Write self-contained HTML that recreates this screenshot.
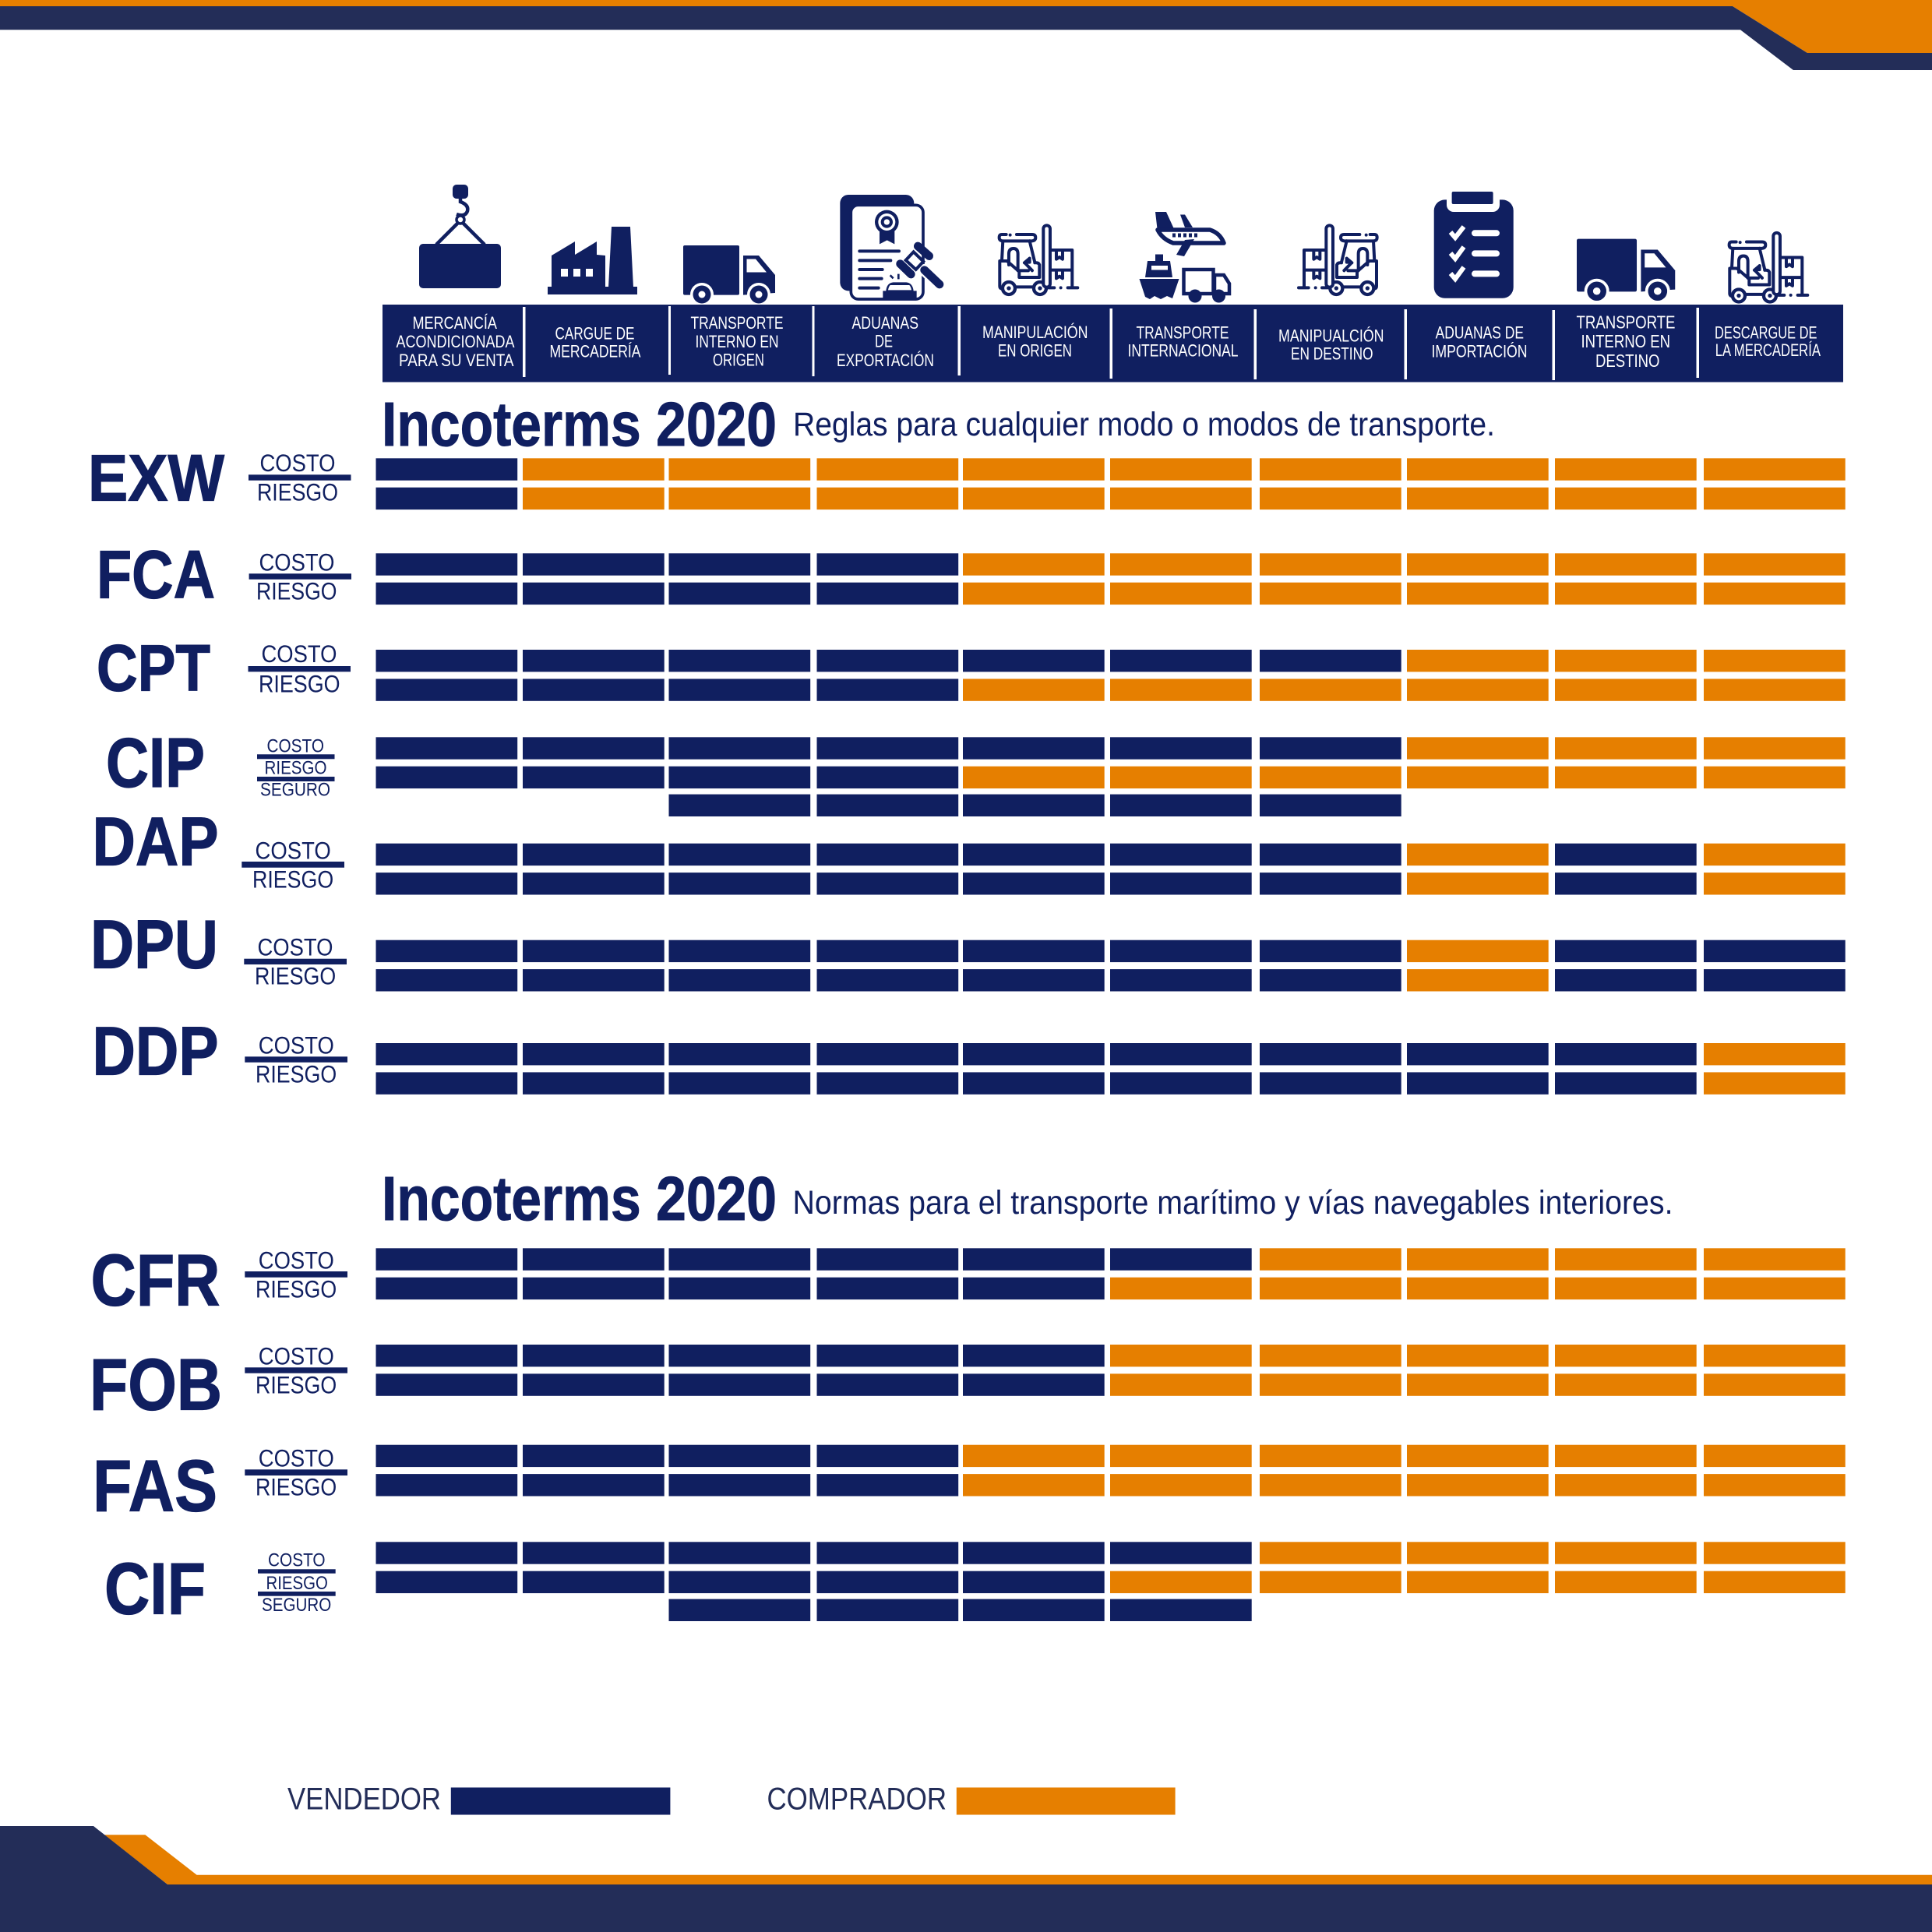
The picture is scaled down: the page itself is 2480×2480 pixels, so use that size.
<!DOCTYPE html>
<html lang="es">
<head>
<meta charset="utf-8">
<title>Incoterms 2020</title>
<style>
html,body{margin:0;padding:0;background:#fff;width:2480px;height:2480px;overflow:hidden}
svg{display:block}
text{font-family:"Liberation Sans",sans-serif}
.hd{font-size:22px;fill:#fff}
.ttl{font-size:80px;font-weight:700;fill:#101f60;stroke:#101f60;stroke-width:1}
.sub{font-size:43px;fill:#101f60}
.term{font-weight:700;fill:#101f60;stroke:#101f60;stroke-width:1.2}
.cr{font-size:31.5px;fill:#101f60}
.crs{font-size:24.5px;fill:#101f60}
.leg{font-size:40px;fill:#232d58}
.navy{fill:#101f60}
.sep{fill:#fff}
.fk{fill:none;stroke:#101f60;stroke-width:12;stroke-linecap:round;stroke-linejoin:round}
</style>
</head>
<body>
<svg id="chart" xmlns="http://www.w3.org/2000/svg" width="2480" height="2480" viewBox="0 0 2480 2480">
<rect width="2480" height="2480" fill="#fff"/>

<!-- frame -->
<polygon fill="#e67f00" points="0,0 2480,0 2480,68 2320,68 2224,8 0,8"/>
<polygon fill="#232d58" points="0,8 2224,8 2320,68 2480,68 2480,90 2302,90 2234,38.3 0,38.3"/>
<polygon fill="#e67f00" points="134,2355.3 186.4,2355.3 252.6,2406.7 2480,2406.7 2480,2419 215,2419"/>
<polygon fill="#232d58" points="0,2344 120,2344 215,2419 2480,2419 2480,2480 0,2480"/>

<defs>
<g id="forklift">
  <path class="fk" d="M875 183H858Q848 183 848 195Q848 206 860 208H975Q988 206 988 195Q988 183 975 183H915"/>
  <circle cx="890" cy="185" r="6" class="navy"/>
  <path class="fk" d="M862 208L858 285M965 208L985 290"/>
  <path class="fk" d="M885 300V258Q885 237 903 237Q920 237 920 258V322H960M945 292L965 275M965 275V290H950M950 296L975 322"/>
  <path class="fk" d="M850 285V382Q850 390 858 392M850 285H878L925 326V348H1003V300Q1000 290 985 292M915 385H975"/>
  <circle cx="885" cy="390" r="24" fill="#fff" stroke="#101f60" stroke-width="13"/>
  <circle cx="885" cy="390" r="8" class="navy"/>
  <circle cx="1005" cy="390" r="24" fill="#fff" stroke="#101f60" stroke-width="13"/>
  <circle cx="1005" cy="390" r="8" class="navy"/>
  <rect x="1018" y="148" width="26" height="238" rx="13" fill="#fff" stroke="#101f60" stroke-width="12"/>
  <path class="fk" d="M1046 243H1129V386M1046 320H1129M1068 243V278L1080 270L1092 278V243M1068 320V352L1080 344L1092 352V320M1036 388H1060M1112 388H1150"/>
  <circle cx="1085" cy="388" r="6" class="navy"/>
</g>
<g id="truck">
  <rect x="877" y="315" width="72" height="63.6" rx="2" class="navy"/>
  <path class="navy" d="M954 328H974L995 353V376L954 378.6Z"/>
  <path fill="#fff" d="M958.5 332.5H970L984 349.5H958.5Z"/>
  <circle cx="901" cy="378" r="15" fill="#fff"/>
  <circle cx="901" cy="378" r="11.5" class="navy"/>
  <circle cx="901" cy="378" r="4.5" fill="#fff"/>
  <circle cx="974" cy="378" r="15" fill="#fff"/>
  <circle cx="974" cy="378" r="11.5" class="navy"/>
  <circle cx="974" cy="378" r="4.5" fill="#fff"/>
</g>
</defs>

<!-- icons -->
<g>
  <rect x="538" y="313" width="105" height="57" rx="5" class="navy"/>
  <rect x="581" y="237" width="20" height="18" rx="5" class="navy"/>
  <path d="M591 255V259Q602 263 600 271Q597 279 586 275M591 283L560 314M591 283L622 314" fill="none" stroke="#101f60" stroke-width="4.5"/>
  <circle cx="591" cy="282" r="5" fill="#fff" stroke="#101f60" stroke-width="3.5"/>
</g>
<g>
  <rect x="703" y="368" width="115" height="10" class="navy"/>
  <polygon class="navy" points="708,328 738,310 738,327 766,310 766,327 777,328 777,369 708,369"/>
  <polygon class="navy" points="785,291 809,291 813,369 781,369"/>
  <rect x="720" y="345" width="9" height="10" fill="#fff"/>
  <rect x="736" y="345" width="9" height="10" fill="#fff"/>
  <rect x="752" y="345" width="9" height="10" fill="#fff"/>
</g>
<use href="#truck"/>
<g transform="matrix(.3333 0 0 .3333 1000 240)">
  <rect x="235" y="30" width="285" height="370" rx="32" class="navy"/>
  <rect x="277" y="70" width="278" height="362" rx="28" fill="#fff" stroke="#101f60" stroke-width="11"/>
  <polygon class="navy" points="387,170 445,170 445,220 416,205 387,220"/>
  <circle cx="415" cy="135" r="46" class="navy"/>
  <circle cx="415" cy="135" r="33" fill="#fff"/>
  <circle cx="415" cy="135" r="23" class="navy"/>
  <circle cx="415" cy="135" r="11" fill="#fff"/>
  <path d="M310 247H462M310 283H430M310 318H398M310 353H395M310 389H383" stroke="#101f60" stroke-width="12" stroke-linecap="round" fill="none"/>
  <path d="M428 340L440 352M460 335V355" stroke="#101f60" stroke-width="8" fill="none"/>
  <path class="navy" d="M400 432V400H412Q415 370 440 367H490Q515 370 518 400H530V432Z"/>
  <path fill="#fff" d="M428 378H502Q508 385 510 397H420Q422 385 428 378Z"/>
  <path d="M560 320L618 375" stroke="#fff" stroke-width="46" stroke-linecap="round"/>
  <path d="M560 320L618 375" stroke="#101f60" stroke-width="32" stroke-linecap="round"/>
  <path d="M535 228L578 266M467 296L508 336" stroke="#101f60" stroke-width="32" stroke-linecap="round"/>
  <polygon points="518,250 556,287 527,318 488,282" fill="#fff" stroke="#101f60" stroke-width="12"/>
</g>
<use href="#forklift" transform="matrix(.3333 0 0 .3333 1000 240)"/>
<g>
  <polygon class="navy" points="1483,272 1497,272 1508,296 1486,298"/>
  <polygon class="navy" points="1515,275.5 1521,275.5 1531,292 1521,292"/>
  <path d="M1486 295H1553Q1566 299 1571 312H1506Q1492 307 1486 295Z" fill="#fff" stroke="#101f60" stroke-width="5.5" stroke-linejoin="round"/>
  <path d="M1505 302H1540" stroke="#101f60" stroke-width="5" stroke-dasharray="4 3" fill="none"/>
  <polygon class="navy" points="1521,308 1533,307 1520,329 1510,327"/>
  <rect x="1483" y="326.5" width="10" height="9" class="navy"/>
  <polygon class="navy" points="1473,335 1502,335 1505,356 1470,356"/>
  <rect x="1478" y="341" width="21" height="5.5" fill="#fff"/>
  <path class="navy" d="M1462.5 358H1513.5L1505 383L1498 380L1490 384L1482 380L1476 384L1470 381Z"/>
  <rect x="1519.5" y="346" width="38" height="31" fill="#fff" stroke="#101f60" stroke-width="4.5"/>
  <path d="M1559 353H1571L1578 364V377H1559Z" fill="#fff" stroke="#101f60" stroke-width="4.5"/>
  <circle cx="1534" cy="380" r="8.5" class="navy"/>
  <circle cx="1564.5" cy="380" r="8.5" class="navy"/>
</g>
<use href="#forklift" transform="matrix(-.3333 0 0 .3333 2050.3 240)"/>
<g>
  <rect x="1840.7" y="256.4" width="102" height="126.4" rx="14" class="navy"/>
  <rect x="1857" y="248" width="68" height="24" rx="9" fill="#fff"/>
  <rect x="1863.6" y="246" width="53" height="16" rx="2" class="navy"/>
  <path d="M1862 298L1868 305L1879 291M1862 325L1868 332L1879 317M1862 351L1868 358L1879 343" fill="none" stroke="#fff" stroke-width="6"/>
  <path d="M1893 299.3H1921M1893 325.4H1921M1893 351.4H1921" stroke="#fff" stroke-width="8" stroke-linecap="round"/>
</g>
<use href="#truck" transform="matrix(1.07 0 0 1.066 1085.6 -29.2)"/>
<use href="#forklift" transform="matrix(.3333 0 0 .3333 1937 249.5)"/>

<!-- header band -->
<rect x="491" y="391" width="1875" height="99.5" class="navy"/>
<g class="sep">
  <rect x="671" y="394" width="3.5" height="90"/>
  <rect x="858" y="393" width="3" height="88"/>
  <rect x="1042.5" y="393" width="3" height="90"/>
  <rect x="1229.5" y="393" width="3.5" height="89"/>
  <rect x="1424.5" y="396" width="3.5" height="90"/>
  <rect x="1609.5" y="397" width="3.5" height="90"/>
  <rect x="1802.5" y="397" width="3.5" height="90"/>
  <rect x="1992.5" y="398" width="3.5" height="90"/>
  <rect x="2177.5" y="395" width="3.5" height="90"/>
</g>
<g>
<text class="hd" x="529.5" y="422" textLength="108.5" lengthAdjust="spacingAndGlyphs">MERCANCÍA</text>
<text class="hd" x="508.5" y="446" textLength="152" lengthAdjust="spacingAndGlyphs">ACONDICIONADA</text>
<text class="hd" x="512" y="470" textLength="147.5" lengthAdjust="spacingAndGlyphs">PARA SU VENTA</text>
<text class="hd" x="712.5" y="435.7" textLength="102" lengthAdjust="spacingAndGlyphs">CARGUE DE</text>
<text class="hd" x="705.5" y="458.7" textLength="117" lengthAdjust="spacingAndGlyphs">MERCADERÍA</text>
<text class="hd" x="886.5" y="422" textLength="119" lengthAdjust="spacingAndGlyphs">TRANSPORTE</text>
<text class="hd" x="892.5" y="446" textLength="107" lengthAdjust="spacingAndGlyphs">INTERNO EN</text>
<text class="hd" x="915" y="469.4" textLength="66" lengthAdjust="spacingAndGlyphs">ORIGEN</text>
<text class="hd" x="1093.5" y="422" textLength="85.5" lengthAdjust="spacingAndGlyphs">ADUANAS</text>
<text class="hd" x="1123" y="445.7" textLength="23" lengthAdjust="spacingAndGlyphs">DE</text>
<text class="hd" x="1074" y="470" textLength="125" lengthAdjust="spacingAndGlyphs">EXPORTACIÓN</text>
<text class="hd" x="1261" y="434" textLength="135.5" lengthAdjust="spacingAndGlyphs">MANIPULACIÓN</text>
<text class="hd" x="1281" y="457.5" textLength="95" lengthAdjust="spacingAndGlyphs">EN ORIGEN</text>
<text class="hd" x="1458.5" y="434.6" textLength="119" lengthAdjust="spacingAndGlyphs">TRANSPORTE</text>
<text class="hd" x="1447.5" y="457.5" textLength="142" lengthAdjust="spacingAndGlyphs">INTERNACIONAL</text>
<text class="hd" x="1641" y="438.4" textLength="135.5" lengthAdjust="spacingAndGlyphs">MANIPUALCIÓN</text>
<text class="hd" x="1657" y="461.4" textLength="105.5" lengthAdjust="spacingAndGlyphs">EN DESTINO</text>
<text class="hd" x="1842.6" y="434.6" textLength="113.4" lengthAdjust="spacingAndGlyphs">ADUANAS DE</text>
<text class="hd" x="1837.5" y="458.3" textLength="123" lengthAdjust="spacingAndGlyphs">IMPORTACIÓN</text>
<text class="hd" x="2023.5" y="421.5" textLength="127" lengthAdjust="spacingAndGlyphs" style="font-size:23.5px">TRANSPORTE</text>
<text class="hd" x="2029.5" y="446" textLength="114.6" lengthAdjust="spacingAndGlyphs" style="font-size:23.5px">INTERNO EN</text>
<text class="hd" x="2048" y="471" textLength="82.5" lengthAdjust="spacingAndGlyphs" style="font-size:23.5px">DESTINO</text>
<text class="hd" x="2201" y="434.6" textLength="131.5" lengthAdjust="spacingAndGlyphs">DESCARGUE DE</text>
<text class="hd" x="2201.7" y="456.8" textLength="135.3" lengthAdjust="spacingAndGlyphs">LA MERCADERÍA</text>
</g>

<!-- titles -->
<text class="ttl" x="490" y="572" textLength="507" lengthAdjust="spacingAndGlyphs">Incoterms 2020</text>
<text class="sub" x="1018" y="559" textLength="901" lengthAdjust="spacingAndGlyphs">Reglas para cualquier modo o modos de transporte.</text>
<text class="ttl" x="490" y="1566" textLength="507" lengthAdjust="spacingAndGlyphs">Incoterms 2020</text>
<text class="sub" x="1017.5" y="1558" textLength="1130" lengthAdjust="spacingAndGlyphs">Normas para el transporte marítimo y vías navegables interiores.</text>

<!-- term labels -->
<g>
<text class="term" x="113" y="642.7" font-size="84" textLength="175" lengthAdjust="spacingAndGlyphs">EXW</text>
<text class="term" x="124" y="767.7" font-size="87" textLength="152" lengthAdjust="spacingAndGlyphs">FCA</text>
<text class="term" x="124" y="886.7" font-size="84" textLength="146" lengthAdjust="spacingAndGlyphs">CPT</text>
<text class="term" x="136" y="1010" font-size="90" textLength="127" lengthAdjust="spacingAndGlyphs">CIP</text>
<text class="term" x="118.5" y="1110.7" font-size="88" textLength="162" lengthAdjust="spacingAndGlyphs">DAP</text>
<text class="term" x="116" y="1242.7" font-size="88" textLength="164" lengthAdjust="spacingAndGlyphs">DPU</text>
<text class="term" x="118.5" y="1379.7" font-size="88" textLength="162" lengthAdjust="spacingAndGlyphs">DDP</text>
<text class="term" x="116.5" y="1675.7" font-size="94" textLength="166" lengthAdjust="spacingAndGlyphs">CFR</text>
<text class="term" x="115" y="1809.7" font-size="94" textLength="170" lengthAdjust="spacingAndGlyphs">FOB</text>
<text class="term" x="119" y="1939.7" font-size="94" textLength="160" lengthAdjust="spacingAndGlyphs">FAS</text>
<text class="term" x="134" y="2071.7" font-size="94" textLength="130" lengthAdjust="spacingAndGlyphs">CIF</text>
</g>

<!-- costo / riesgo keys -->
<g>
<text class="cr" x="333.5" y="605" textLength="97" lengthAdjust="spacingAndGlyphs">COSTO</text>
<rect x="319" y="609.3" width="131.5" height="7.4" class="navy"/>
<text class="cr" x="330" y="642.3" textLength="104" lengthAdjust="spacingAndGlyphs">RIESGO</text>

<text class="cr" x="332.5" y="732.3" textLength="97" lengthAdjust="spacingAndGlyphs">COSTO</text>
<rect x="319.6" y="736.3" width="131.4" height="7.4" class="navy"/>
<text class="cr" x="329" y="769.3" textLength="103.5" lengthAdjust="spacingAndGlyphs">RIESGO</text>

<text class="cr" x="335.5" y="850" textLength="97" lengthAdjust="spacingAndGlyphs">COSTO</text>
<rect x="318.5" y="855" width="131.5" height="7.3" class="navy"/>
<text class="cr" x="332" y="888.3" textLength="104.5" lengthAdjust="spacingAndGlyphs">RIESGO</text>

<text class="crs" x="342.5" y="965.7" textLength="73.5" lengthAdjust="spacingAndGlyphs">COSTO</text>
<rect x="330" y="968.3" width="99.5" height="6" class="navy"/>
<text class="crs" x="339.5" y="993.7" textLength="80" lengthAdjust="spacingAndGlyphs">RIESGO</text>
<rect x="330" y="997" width="99.5" height="6" class="navy"/>
<text class="crs" x="334" y="1021.7" textLength="90" lengthAdjust="spacingAndGlyphs">SEGURO</text>

<text class="cr" x="327.5" y="1102.7" textLength="97.3" lengthAdjust="spacingAndGlyphs">COSTO</text>
<rect x="310.3" y="1106" width="131.7" height="7.7" class="navy"/>
<text class="cr" x="324" y="1139.7" textLength="104.2" lengthAdjust="spacingAndGlyphs">RIESGO</text>

<text class="cr" x="330.5" y="1226.7" textLength="97" lengthAdjust="spacingAndGlyphs">COSTO</text>
<rect x="313.3" y="1230.7" width="131.7" height="7.3" class="navy"/>
<text class="cr" x="327" y="1263.7" textLength="104.2" lengthAdjust="spacingAndGlyphs">RIESGO</text>

<text class="cr" x="331.8" y="1352.7" textLength="97" lengthAdjust="spacingAndGlyphs">COSTO</text>
<rect x="314.3" y="1356.3" width="131.7" height="7.4" class="navy"/>
<text class="cr" x="328" y="1389.3" textLength="104.2" lengthAdjust="spacingAndGlyphs">RIESGO</text>

<text class="cr" x="331.8" y="1628.7" textLength="97" lengthAdjust="spacingAndGlyphs">COSTO</text>
<rect x="314.3" y="1632" width="131.7" height="7.7" class="navy"/>
<text class="cr" x="328" y="1665.7" textLength="104.2" lengthAdjust="spacingAndGlyphs">RIESGO</text>

<text class="cr" x="331.8" y="1751.7" textLength="97" lengthAdjust="spacingAndGlyphs">COSTO</text>
<rect x="314.3" y="1755.3" width="131.7" height="7.4" class="navy"/>
<text class="cr" x="328" y="1788.7" textLength="104.2" lengthAdjust="spacingAndGlyphs">RIESGO</text>

<text class="cr" x="331.8" y="1882.7" textLength="97" lengthAdjust="spacingAndGlyphs">COSTO</text>
<rect x="314.3" y="1886.3" width="131.7" height="7.7" class="navy"/>
<text class="cr" x="328" y="1919.7" textLength="104.2" lengthAdjust="spacingAndGlyphs">RIESGO</text>

<text class="crs" x="344" y="2010.7" textLength="73.6" lengthAdjust="spacingAndGlyphs">COSTO</text>
<rect x="331" y="2014.3" width="99.7" height="5.4" class="navy"/>
<text class="crs" x="341.5" y="2040" textLength="79.3" lengthAdjust="spacingAndGlyphs">RIESGO</text>
<rect x="331" y="2043" width="99.7" height="5.7" class="navy"/>
<text class="crs" x="336" y="2068" textLength="89.3" lengthAdjust="spacingAndGlyphs">SEGURO</text>
</g>

<g id="bars"></g>

<!-- legend -->
<g>
<text class="leg" x="369" y="2322.7" textLength="197" lengthAdjust="spacingAndGlyphs">VENDEDOR</text>
<rect x="578.8" y="2294.5" width="281.6" height="35" fill="#101f60"/>
<text class="leg" x="984.5" y="2322.7" textLength="230.5" lengthAdjust="spacingAndGlyphs">COMPRADOR</text>
<rect x="1227.8" y="2294.5" width="280.8" height="35" fill="#e67f00"/>
</g>
</svg>

<script>
// 1 = vendedor, 0 = comprador, null = sin barra
const terms = ['EXW','FCA','CPT','CIP','DAP','DPU','DDP','CFR','FOB','FAS','CIF'];
const stages = ['mercancia','cargue','transporte-origen','aduanas-exportacion','manipulacion-origen','transporte-internacional','manipulacion-destino','aduanas-importacion','transporte-destino','descargue'];
const costoValues = [
  [1,0,0,0,0,0,0,0,0,0],
  [1,1,1,1,0,0,0,0,0,0],
  [1,1,1,1,1,1,1,0,0,0],
  [1,1,1,1,1,1,1,0,0,0],
  [1,1,1,1,1,1,1,0,1,0],
  [1,1,1,1,1,1,1,0,1,1],
  [1,1,1,1,1,1,1,1,1,0],
  [1,1,1,1,1,1,0,0,0,0],
  [1,1,1,1,1,0,0,0,0,0],
  [1,1,1,1,0,0,0,0,0,0],
  [1,1,1,1,1,1,0,0,0,0]
];
const riesgoValues = [
  [1,0,0,0,0,0,0,0,0,0],
  [1,1,1,1,0,0,0,0,0,0],
  [1,1,1,1,0,0,0,0,0,0],
  [1,1,1,1,0,0,0,0,0,0],
  [1,1,1,1,1,1,1,0,1,0],
  [1,1,1,1,1,1,1,0,1,1],
  [1,1,1,1,1,1,1,1,1,0],
  [1,1,1,1,1,0,0,0,0,0],
  [1,1,1,1,1,0,0,0,0,0],
  [1,1,1,1,0,0,0,0,0,0],
  [1,1,1,1,1,0,0,0,0,0]
];
const seguroValues = [
  null,null,null,
  [null,null,1,1,1,1,1,null,null,null],
  null,null,null,null,null,null,
  [null,null,1,1,1,1,null,null,null,null]
];

const NS = 'http://www.w3.org/2000/svg';
const NAVY = '#101f60';
const ORANGE = '#e67f00';
const BAR_W = 181.7;
const BAR_H = 28.4;
const LINE_STEP = 37.4;
const THIRD_LINE_SHIFT = -1.5;

// Axis functions: column index -> x, term index + line -> y
function xAxis(col) {
  const edges = {0:482.5,1:671,2:858.5,3:1048.5,4:1236,5:1425,6:1617,7:1806,8:1996,9:2187};
  return edges[col];
}
function yAxis(term, line) {
  const tops = {EXW:588.3,FCA:710.3,CPT:834,CIP:946.3,DAP:1082.7,DPU:1206.7,DDP:1339,CFR:1602.3,FOB:1726,FAS:1854.7,CIF:1979.3};
  return tops[term] + line * LINE_STEP + (line === 2 ? THIRD_LINE_SHIFT : 0);
}

const barsLayer = document.getElementById('bars');
function drawRow(values, termIndex, line, kind) {
  if (!values) return;
  values.forEach(function (v, col) {
    if (v === null) return;
    const r = document.createElementNS(NS, 'rect');
    r.setAttribute('x', xAxis(col));
    r.setAttribute('y', yAxis(terms[termIndex], line));
    r.setAttribute('width', BAR_W);
    r.setAttribute('height', BAR_H);
    r.setAttribute('fill', v === 1 ? NAVY : ORANGE);
    
    
    barsLayer.appendChild(r);
  });
}
terms.forEach(function (t, i) {
  drawRow(costoValues[i], i, 0, 'costo');
  drawRow(riesgoValues[i], i, 1, 'riesgo');
  drawRow(seguroValues[i], i, 2, 'seguro');
});
</script>
</body>
</html>
